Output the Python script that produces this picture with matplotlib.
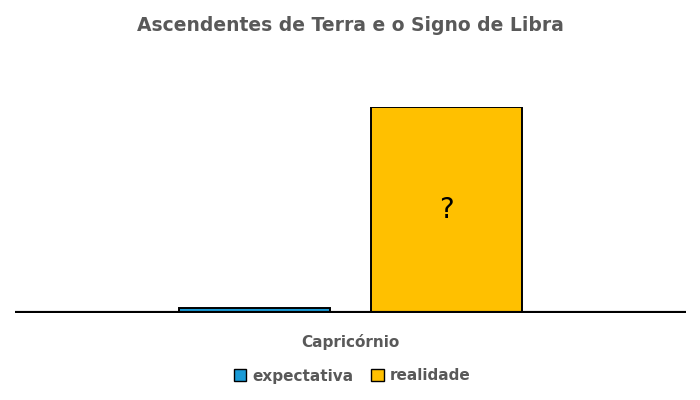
import matplotlib
matplotlib.use("Agg")
import matplotlib.pyplot as plt
from matplotlib.patches import Patch

categories = ["Capricórnio"]
series = ["expectativa", "realidade"]
values = [0.025, 1.0]
colors = ["#1A9BD7", "#FFC000"]
annot = "?"

fig = plt.figure(figsize=(7, 4), dpi=100)
ax = fig.add_axes([15/700, 1-313/400, 671/700, 206/400])
offsets = [-0.5, 0.5]
for off, v, c, s in zip(offsets, values, colors, series):
    ax.bar(off, v, width=0.79, color=c, edgecolor="black", linewidth=1.4, label=s, zorder=2)
ax.text(offsets[1], values[1]/2, annot, ha="center", va="center", fontsize=20, color="black")
ax.set_xlim(-1.75, 1.75)
ax.set_ylim(0, 1)
ax.axhline(0, color="black", linewidth=3, zorder=3)
for sp in ax.spines.values():
    sp.set_visible(False)
ax.set_yticks([])
ax.set_xticks([0])
ax.set_xticklabels(categories, fontsize=11, fontweight="bold", color="#595959")
ax.tick_params(axis="x", length=0, pad=15)
fig.suptitle("Ascendentes de Terra e o Signo de Libra", y=0.96, fontsize=13.5, fontweight="bold", color="#595959")
handles = [Patch(facecolor=c, edgecolor="black", label=s) for c, s in zip(colors, series)]
fig.legend(handles=handles, loc="center", bbox_to_anchor=(352/700, 1-376/400), ncol=2, frameon=False,
           handlelength=0.8, handleheight=0.8, handletextpad=0.4, columnspacing=1.2,
           prop={"size": 11, "weight": "bold"}, labelcolor="#595959")
fig.savefig("out.png", dpi=100)
